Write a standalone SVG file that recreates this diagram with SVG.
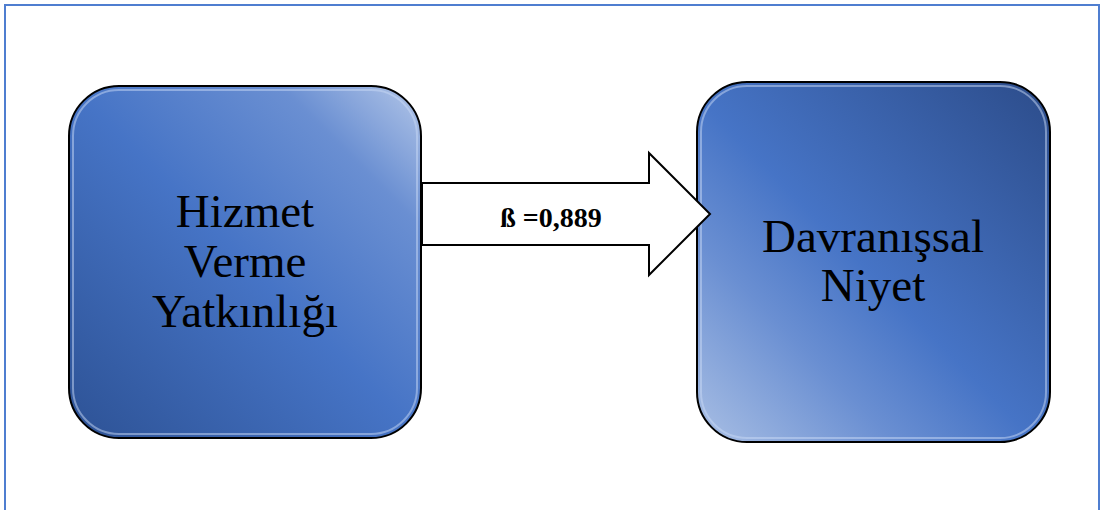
<svg xmlns="http://www.w3.org/2000/svg" width="1101" height="510" viewBox="0 0 1101 510">
  <defs>
    <linearGradient id="gLeft" x1="0" y1="1" x2="1" y2="0">
      <stop offset="0" stop-color="#2D5295"/>
      <stop offset="0.5" stop-color="#4674C6"/>
      <stop offset="0.8" stop-color="#6A8FD2"/>
      <stop offset="1" stop-color="#B3C6E8"/>
    </linearGradient>
    <linearGradient id="gRight" x1="0" y1="1" x2="1" y2="0">
      <stop offset="0" stop-color="#A9BFE4"/>
      <stop offset="0.28" stop-color="#6A8FD2"/>
      <stop offset="0.48" stop-color="#4674C6"/>
      <stop offset="1" stop-color="#2C4C8A"/>
    </linearGradient>
    <style>
      .box { stroke: #000; stroke-width: 2; }
      .hl { fill: none; stroke: #C9DAF5; stroke-width: 2; opacity: 0.5; }
      .lbl { font-family: "Liberation Serif", "Times New Roman", serif; font-size: 47px; fill: #000; text-anchor: middle; }
      .beta { font-family: "Liberation Serif", "Times New Roman", serif; font-size: 28px; font-weight: bold; fill: #000; text-anchor: middle; }
    </style>
  </defs>
  <rect x="5" y="5" width="1094" height="530" fill="#fff" stroke="#4F7ED0" stroke-width="2"/>
  <g id="node-hizmet">
    <rect class="box" x="69" y="86" width="352" height="352" rx="50" ry="50" fill="url(#gLeft)"/>
    <rect class="hl" x="73" y="90" width="344" height="344" rx="46" ry="46"/>
    <text class="lbl" x="245" y="227">Hizmet</text>
    <text class="lbl" x="245" y="277">Verme</text>
    <text class="lbl" x="245" y="327">Yatkınlığı</text>
  </g>
  <g id="node-davranissal">
    <rect class="box" x="697" y="82" width="353" height="360" rx="50" ry="50" fill="url(#gRight)"/>
    <rect class="hl" x="701" y="86" width="345" height="352" rx="46" ry="46"/>
    <text class="lbl" x="873" y="252">Davranışsal</text>
    <text class="lbl" x="873" y="301">Niyet</text>
  </g>
  <g id="connectors">
    <polygon points="422,183 649,183 649,153 710,214 649,275 649,245 422,245" fill="#fff" stroke="#000" stroke-width="2"/>
    <text class="beta" x="551" y="227">ß =0,889</text>
  </g>
</svg>
